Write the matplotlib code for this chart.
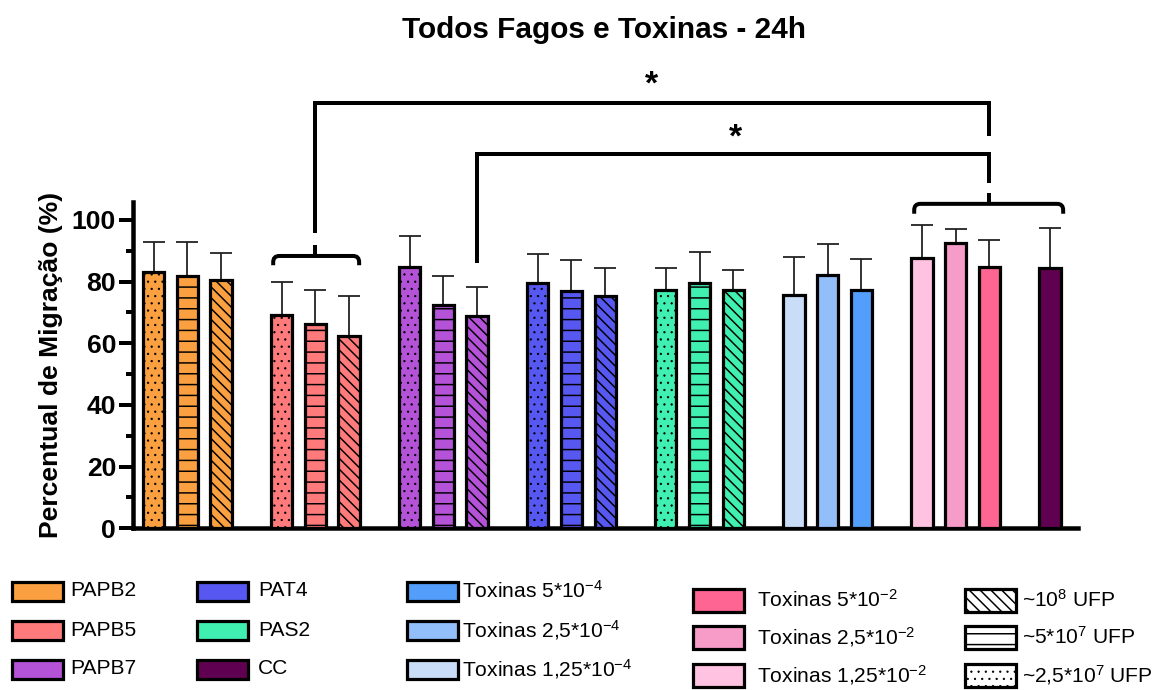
import matplotlib
matplotlib.use("Agg")
import matplotlib.pyplot as plt
from matplotlib.patches import Rectangle, PathPatch
from matplotlib.path import Path
from matplotlib.ticker import MultipleLocator

DPI = 130


def pt(px):
    # pixel size -> points at the chosen dpi
    return px * 72 / DPI


plt.rcParams['font.family'] = ['Liberation Sans', 'DejaVu Sans']
plt.rcParams['mathtext.fontset'] = 'custom'
plt.rcParams['mathtext.rm'] = 'Liberation Sans'
plt.rcParams['mathtext.it'] = 'Liberation Sans'
plt.rcParams['hatch.linewidth'] = pt(1.5)

# ---- data ----
groups = ['PAPB2', 'PAPB5', 'PAPB7', 'PAT4', 'PAS2',
          'Toxinas e-4', 'Toxinas e-2', 'CC']
means = [
    [83.2, 81.8, 80.5],
    [69.2, 66.2, 62.5],
    [84.8, 72.4, 68.7],
    [79.5, 77.0, 75.2],
    [77.2, 79.5, 77.4],
    [75.5, 82.2, 77.4],
    [87.5, 92.6, 84.6],
    [84.4],
]
sd = [
    [9.5, 10.9, 8.7],
    [10.6, 11.1, 12.9],
    [10.0, 9.3, 9.6],
    [9.6, 10.0, 9.3],
    [7.2, 10.0, 6.2],
    [12.5, 10.1, 9.9],
    [10.9, 4.5, 9.0],
    [13.0],
]
colors = [
    ['#FBA040'] * 3,
    ['#FF7B7B'] * 3,
    ['#B452D8'] * 3,
    ['#5757F2'] * 3,
    ['#40F0B0'] * 3,
    ['#C9DDF8', '#92BEFA', '#529EFA'],
    ['#FFC2E0', '#F79BC9', '#FF6593'],
    ['#600050'],
]
dose_hatch = ['...', '--', '\\\\\\\\']   # ~2,5*10^7, ~5*10^7, ~10^8 UFP
hatches = [dose_hatch] * 5 + [[None] * 3, [None] * 3, [None]]

legend_labels = ['PAPB2', 'PAPB5', 'PAPB7',
                 'PAT4', 'PAS2', 'CC',
                 r'Toxinas 5*10$^{-4}$', r'Toxinas 2,5*10$^{-4}$', r'Toxinas 1,25*10$^{-4}$',
                 r'Toxinas 5*10$^{-2}$', r'Toxinas 2,5*10$^{-2}$', r'Toxinas 1,25*10$^{-2}$',
                 r'~10$^{8}$ UFP', r'~5*10$^{7}$ UFP', r'~2,5*10$^{7}$ UFP']
legend_colors = ['#FBA040', '#FF7B7B', '#B452D8',
                 '#5757F2', '#40F0B0', '#600050',
                 '#529EFA', '#92BEFA', '#C9DDF8',
                 '#FF6593', '#F79BC9', '#FFC2E0',
                 'white', 'white', 'white']
legend_hatches = [None] * 12 + ['\\\\\\\\', '--', '...']


def hatch_lw(patch):
    # dots get a thinner stroke than the line hatches
    if patch.get_hatch() == '...' and hasattr(patch, 'set_hatch_linewidth'):
        patch.set_hatch_linewidth(pt(0.8))


group_step = 3.8

fig = plt.figure(figsize=(1174 / DPI, 690 / DPI), dpi=DPI)
ax = fig.add_axes([133 / 1174, 1 - 528.3 / 690, (1078 - 133) / 1174, (528.3 - 202) / 690])

centers = []
for g in range(len(groups)):
    xs = [g * group_step + j for j in range(len(means[g]))]
    centers.append(xs)
    ax.errorbar(xs, means[g], yerr=[[0] * len(xs), sd[g]], fmt='none',
                ecolor='#222222', elinewidth=pt(1.8), capsize=pt(11),
                capthick=pt(1.8), zorder=2)
    for x, m, c, h in zip(xs, means[g], colors[g], hatches[g]):
        bars = ax.bar(x, m, width=0.63, color=c, edgecolor='black',
                      linewidth=pt(3.2), hatch=h, zorder=3)
        hatch_lw(bars[0])

ax.set_xlim(-0.61, 27.43)
ax.set_ylim(0, 105.8)
ax.set_xticks([])
ax.yaxis.set_major_locator(MultipleLocator(20))
ax.yaxis.set_minor_locator(MultipleLocator(10))
ax.tick_params(axis='y', which='major', length=pt(14), width=pt(4),
               labelsize=pt(26.5), pad=pt(3))
ax.tick_params(axis='y', which='minor', length=pt(7), width=pt(4))
for lab in ax.get_yticklabels():
    lab.set_fontweight('bold')
for s in ['top', 'right']:
    ax.spines[s].set_visible(False)
for s in ['left', 'bottom']:
    ax.spines[s].set_linewidth(pt(4.5))
ax.set_ylabel('Percentual de Migração (%)', fontsize=pt(26.5), fontweight='bold',
              labelpad=pt(9))

fig.text(604 / 1174, 1 - 30 / 690, 'Todos Fagos e Toxinas - 24h', fontsize=pt(29.8),
         fontweight='bold', ha='center', va='center')

# ---- significance brackets ----
blw = pt(4)
x_b5 = centers[1][1]
x_b7 = centers[2][2]
x_t2 = centers[6][2]


def bracket(xa, ya, xb, yb, ytop):
    ax.plot([xa, xa, xb, xb], [ya, ytop, ytop, yb], color='black', lw=blw,
            clip_on=False, solid_joinstyle='miter', solid_capstyle='butt')


def brace(x0, x1, y, drop, xc, tick):
    rx, ry = 0.18, 2.0
    verts = [(x0, y - drop), (x0, y - ry), (x0, y), (x0 + rx, y),
             (x1 - rx, y), (x1, y), (x1, y - ry), (x1, y - drop)]
    codes = [Path.MOVETO, Path.LINETO, Path.CURVE3, Path.CURVE3,
             Path.LINETO, Path.CURVE3, Path.CURVE3, Path.LINETO]
    ax.add_patch(PathPatch(Path(verts, codes), fill=False, lw=blw,
                           edgecolor='black', clip_on=False, capstyle='butt'))
    ax.plot([xc, xc], [y, y + tick], color='black', lw=blw, clip_on=False,
            solid_capstyle='butt')


bracket(x_b5, 95.8, x_t2, 127.2, 138.0)
bracket(x_b7, 86.0, x_t2, 112.0, 121.3)
brace(3.55, 6.10, 88.3, 3.0, x_b5, 3.6)
brace(22.57, 26.99, 105.2, 3.2, x_t2, 3.6)
ax.text(14.79, 143.6, '*', fontsize=pt(34), fontweight='bold', ha='center',
        va='center', clip_on=False)
ax.text(17.26, 126.6, '*', fontsize=pt(34), fontweight='bold', ha='center',
        va='center', clip_on=False)

# ---- legend drawn in pixel space ----
lg = fig.add_axes([0, 0, 1, 1], zorder=-1)
lg.set_xlim(0, 1174)
lg.set_ylim(690, 0)
lg.axis('off')
col_box_x = [12, 197, 407, 693, 965]
col_text_x = [70, 258, 462, 757, 1022]
col_rows = [[591, 630, 669]] * 3 + [[600, 637, 675]] * 2
col_box_h = [19, 19, 19, 23, 23]
for i, (lab, c, h) in enumerate(zip(legend_labels, legend_colors, legend_hatches)):
    col, row = divmod(i, 3)
    yc = col_rows[col][row]
    bh = col_box_h[col]
    sw = lg.add_patch(Rectangle((col_box_x[col], yc - bh / 2), 51, bh, facecolor=c,
                                edgecolor='black', linewidth=pt(3.2), hatch=h))
    hatch_lw(sw)
    lg.text(col_text_x[col], yc, lab, fontsize=pt(21), ha='left', va='center')

fig.savefig('out.png', dpi=DPI)
